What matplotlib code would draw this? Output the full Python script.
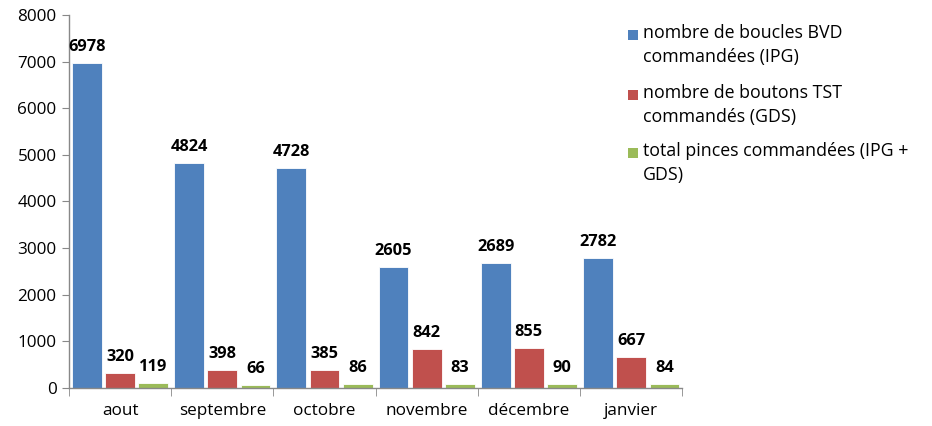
import numpy as np
import matplotlib.pyplot as plt
from matplotlib.patches import Rectangle

months = ['aout', 'septembre', 'octobre', 'novembre', 'décembre', 'janvier']
boucles_bvd = [6978, 4824, 4728, 2605, 2689, 2782]
boutons_tst = [320, 398, 385, 842, 855, 667]
total_pinces = [119, 66, 86, 83, 90, 84]

series = [
    ('nombre de boucles BVD\ncommandées (IPG)', boucles_bvd, '#4F81BD'),
    ('nombre de boutons TST\ncommandés (GDS)', boutons_tst, '#C0504D'),
    ('total pinces commandées (IPG +\nGDS)', total_pinces, '#9BBB59'),
]

plt.rcParams['font.family'] = ['Open Sans', 'DejaVu Sans']

W, H = 932, 426
fig = plt.figure(figsize=(W / 100, H / 100), dpi=100)
ax = fig.add_axes([0.074, 0.089, 0.658, 0.876])

x = np.arange(len(months))
width = 0.29
step = 0.325
for i, (name, vals, col) in enumerate(series):
    pos = x + (i - 1) * step
    bars = ax.bar(pos, vals, width, color=col, edgecolor='white', linewidth=0.6, label=name)
    for b, v in zip(bars, vals):
        ax.text(b.get_x() + b.get_width() / 2, v + 170, str(v), ha='center', va='bottom',
                fontsize=11.8, fontweight='bold', color='black')

ax.set_xlim(-0.5, len(months) - 0.5)
ax.set_ylim(0, 8000)
ax.set_yticks(range(0, 8001, 1000))
ax.tick_params(axis='y', labelsize=12.3, length=5, color='#888888', pad=4)
ax.set_xticks(x)
ax.set_xticklabels(months, fontsize=12.3)
ax.tick_params(axis='x', length=0, pad=11)
# tick marks between the month groups
ax.set_xticks(np.arange(-0.5, len(months)), minor=True)
ax.tick_params(axis='x', which='minor', length=6, color='#888888')

for s in ['top', 'right']:
    ax.spines[s].set_visible(False)
for s in ['left', 'bottom']:
    ax.spines[s].set_color('#888888')
    ax.spines[s].set_linewidth(1)

# legend drawn by hand: square aligned with the first line of each label
first_line_y = [35, 95, 153]
for (name, vals, col), py in zip(series, first_line_y):
    fig.patches.append(Rectangle((628 / W, 1 - (py + 5) / H), 10 / W, 10 / H,
                                 transform=fig.transFigure, facecolor=col, edgecolor='none'))
    fig.text(643 / W, 1 - (py - 11) / H, name, fontsize=12.8, va='top', ha='left',
             linespacing=1.4)

fig.savefig('out.png', dpi=100)
